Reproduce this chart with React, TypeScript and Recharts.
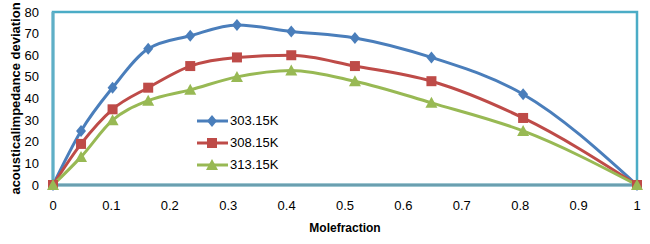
import { LineChart, Line, XAxis, YAxis, ReferenceArea } from "recharts";

const moleFraction = [0, 0.048, 0.102, 0.163, 0.235, 0.315, 0.408, 0.517, 0.648, 0.805, 1];
const t303 = [0, 25, 45, 63, 69, 74, 71, 68, 59, 42, 0];
const t308 = [0, 19, 35, 45, 55, 59, 60, 55, 48, 31, 0];
const t313 = [0, 13, 30, 39, 44, 50, 53, 48, 38, 25, 0];
const xTicks = [0, 0.1, 0.2, 0.3, 0.4, 0.5, 0.6, 0.7, 0.8, 0.9, 1];
const yTicks = [0, 10, 20, 30, 40, 50, 60, 70, 80];

const data = moleFraction.map((x, i) => ({ x, a: t303[i], b: t308[i], c: t313[i] }));

const BLUE = "#4A7EBB";
const RED = "#BE4B48";
const GREEN = "#98B954";
const FONT = "'Liberation Sans', Arial, sans-serif";

const Diamond = (p: any) => {
  const { cx, cy } = p;
  return <path d={`M${cx},${cy - 6}L${cx + 5},${cy}L${cx},${cy + 6}L${cx - 5},${cy}Z`} fill={BLUE} />;
};
const Square = (p: any) => {
  const { cx, cy } = p;
  return <rect x={cx - 5} y={cy - 5} width={10} height={10} fill={RED} />;
};
const Triangle = (p: any) => {
  const { cx, cy } = p;
  return <path d={`M${cx},${cy - 6}L${cx + 6},${cy + 5}L${cx - 6},${cy + 5}Z`} fill={GREEN} />;
};

const legendItems = [
  { name: "303.15K", color: BLUE, Mark: Diamond },
  { name: "308.15K", color: RED, Mark: Square },
  { name: "313.15K", color: GREEN, Mark: Triangle },
];

export default function App() {
  return (
    <div style={{ position: "absolute", left: 0, top: 0, width: 650, height: 244, background: "#fff" }}>
      <LineChart width={650} height={244} data={data} margin={{ top: 12, right: 13, bottom: 0, left: 0 }}>
        <ReferenceArea x1={0} x2={1} y1={0} y2={80} fill="none" stroke="#4BACC6" strokeWidth={2.5} ifOverflow="visible" />
        <XAxis
          dataKey="x"
          type="number"
          domain={[0, 1]}
          ticks={xTicks}
          interval={0}
          tickLine={false}
          axisLine={{ stroke: "#6A9FB0", strokeWidth: 3 }}
          tick={{ fontSize: 13, fill: "#000", fontFamily: FONT }}
          tickMargin={10}
          height={59}
          label={{ value: "Molefraction", position: "insideBottom", offset: 12, style: { fontSize: 12, fontWeight: "bold", fill: "#000", fontFamily: FONT } }}
        />
        <YAxis
          type="number"
          domain={[0, 80]}
          ticks={yTicks}
          interval={0}
          width={53}
          tickLine={false}
          axisLine={{ stroke: "#5FAFC6", strokeWidth: 3 }}
          tick={{ fontSize: 13, fill: "#000", fontFamily: FONT }}
          tickMargin={8}
          label={{ value: "acousticalimpedance deviation", angle: -90, position: "insideLeft", offset: 15, style: { fontSize: 13, fontWeight: "bold", fill: "#000", fontFamily: FONT, textAnchor: "middle" } }}
        />
        <Line type="monotone" dataKey="a" stroke={BLUE} strokeWidth={3} dot={<Diamond />} isAnimationActive={false} />
        <Line type="monotone" dataKey="b" stroke={RED} strokeWidth={3} dot={<Square />} isAnimationActive={false} />
        <Line type="monotone" dataKey="c" stroke={GREEN} strokeWidth={3} dot={<Triangle />} isAnimationActive={false} />
      </LineChart>
      <svg width={110} height={70} style={{ position: "absolute", left: 197, top: 112 }}>
        {legendItems.map((it, i) => (
          <g key={it.name}>
            <line x1={0} x2={31} y1={9 + i * 22} y2={9 + i * 22} stroke={it.color} strokeWidth={3} />
            <it.Mark cx={15} cy={9 + i * 22} />
            <text x={33} y={13 + i * 22} fontSize={13} fontFamily={FONT} fill="#000">
              {it.name}
            </text>
          </g>
        ))}
      </svg>
    </div>
  );
}
